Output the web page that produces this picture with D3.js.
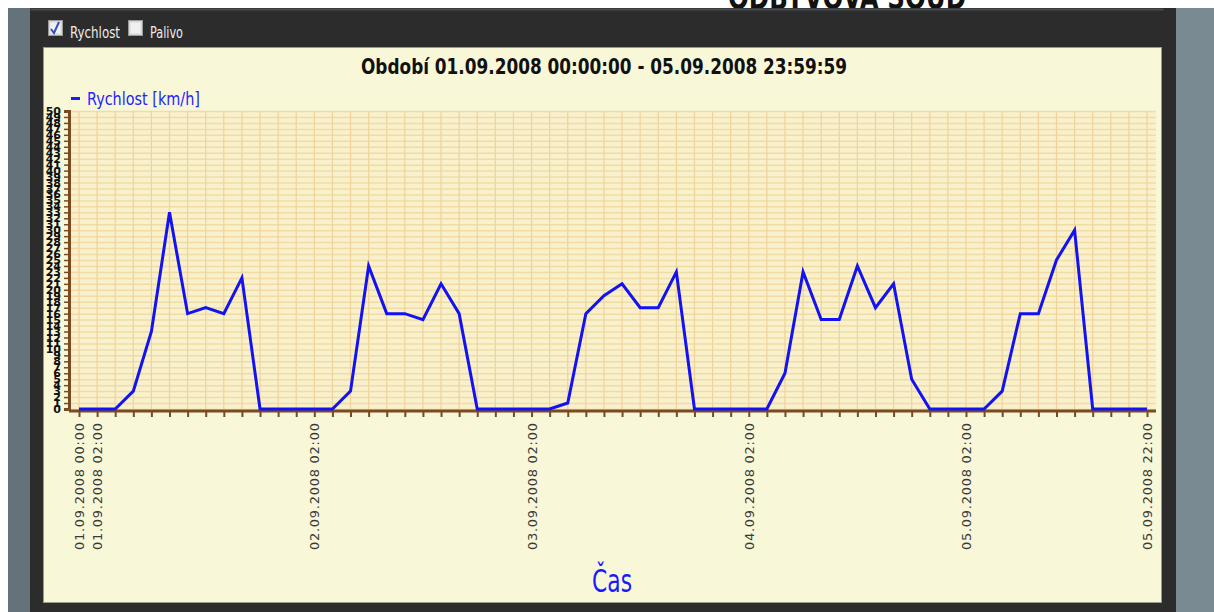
<!DOCTYPE html>
<html><head><meta charset="utf-8">
<script src="https://cdn.jsdelivr.net/npm/d3@7"></script>
<style>html,body{margin:0;padding:0;background:#fff;overflow:hidden}</style>
</head><body>
<svg id="c" width="1214" height="612"></svg>
<script>
// ---- data ----
const hours = d3.range(0, 120, 2); // every 2 hours from 01.09.2008 00:00
const speed = [0,0,0,3,13,33,16,17,16,22,
  0,0,0,0,0,3,24,16,16,15,21,16,
  0,0,0,0,0,1,16,19,21,17,17,23,
  0,0,0,0,0,6,23,15,15,24,17,21,5,
  0,0,0,0,3,16,16,25,30,0,0,0,0];
const labelHours = [0, 2, 26, 50, 74, 98, 118];
const labelTexts = ["01.09.2008 00:00","01.09.2008 02:00","02.09.2008 02:00","03.09.2008 02:00","04.09.2008 02:00","05.09.2008 02:00","05.09.2008 22:00"];
const yTicks = d3.range(0, 51);
const titleText = "Období 01.09.2008 00:00:00 - 05.09.2008 23:59:59";
const seriesName = "Rychlost [km/h]";
const xTitle = "Čas";

const svg = d3.select("#c");
const narrow = "'Liberation Sans Narrow','DejaVu Sans Condensed',sans-serif";

// page background pieces
svg.append("rect").attr("x",0).attr("y",0).attr("width",1214).attr("height",612).attr("fill","#fff");
svg.append("text").attr("x",728).attr("y",9).attr("font-family",narrow).attr("font-weight","bold")
  .attr("font-size",34).attr("fill","#111").attr("textLength",238).attr("lengthAdjust","spacingAndGlyphs").text("ODBYVOVÁ SOUD");
svg.append("rect").attr("x",8).attr("y",8).attr("width",1206).attr("height",604).attr("fill","#64737b");
svg.append("rect").attr("x",1176).attr("y",8).attr("width",38).attr("height",604).attr("fill","#7a8a93");
svg.append("rect").attr("x",30).attr("y",8).attr("width",1146).attr("height",604).attr("fill","#2c2c2c");
svg.append("rect").attr("x",30.5).attr("y",8.5).attr("width",1133).attr("height",2).attr("fill","#474c50");

// checkboxes
function checkbox(x, checked){
  svg.append("rect").attr("x",x+0.5).attr("y",20.5).attr("width",14).attr("height",15)
    .attr("fill","#d8d8d8").attr("stroke","#9a9a9a");
  svg.append("rect").attr("x",x+2.5).attr("y",22.5).attr("width",10).attr("height",11).attr("fill","#f0f0f0");
  if(checked) svg.append("path").attr("d",`M${x+3},29 L${x+6},33 L${x+11},22`)
    .attr("fill","none").attr("stroke","#3050c0").attr("stroke-width",2);
}
checkbox(48, true);
checkbox(128, false);
svg.append("text").attr("x",70).attr("y",38).attr("font-family",narrow).attr("font-size",15).attr("fill","#ececec")
  .attr("textLength",50).attr("lengthAdjust","spacingAndGlyphs").text("Rychlost");
svg.append("text").attr("x",150).attr("y",38).attr("font-family",narrow).attr("font-size",15).attr("fill","#ececec")
  .attr("textLength",33).attr("lengthAdjust","spacingAndGlyphs").text("Palivo");

// cream panel
svg.append("rect").attr("x",43.5).attr("y",47.5).attr("width",1118).attr("height",555)
  .attr("fill","#f8f7d8").attr("stroke","#9b9a86");

// title
svg.append("text").attr("x",604).attr("y",74).attr("text-anchor","middle").attr("font-family",narrow)
  .attr("font-weight","bold").attr("font-size",21).attr("fill","#111")
  .attr("textLength",486).attr("lengthAdjust","spacingAndGlyphs").text(titleText);

// legend
svg.append("rect").attr("x",71).attr("y",97).attr("width",9).attr("height",3).attr("fill","#1a1aff");
svg.append("text").attr("x",87).attr("y",105).attr("font-family",narrow).attr("font-size",18).attr("fill","#2424ff")
  .attr("textLength",113).attr("lengthAdjust","spacingAndGlyphs").text(seriesName);

// scales
const x = d3.scaleLinear().domain([0,118]).range([79,1147]);
const y = d3.scaleLinear().domain([0,50]).range([409,111]);
const plotL = 69, plotR = 1156;

// plot background
svg.append("rect").attr("x",plotL).attr("y",y(50)).attr("width",plotR-plotL).attr("height",y(0)-y(50)).attr("fill","#f8f1cc");
// horizontal grid
svg.append("g").selectAll("line").data(yTicks).join("line")
  .attr("x1",plotL).attr("x2",plotR).attr("y1",d=>y(d)+0.5).attr("y2",d=>y(d)+0.5)
  .attr("stroke","#f1dca6").attr("stroke-width",1.5);
// vertical grid
svg.append("g").selectAll("line").data(hours).join("line")
  .attr("x1",d=>x(d)).attr("x2",d=>x(d)).attr("y1",y(50)).attr("y2",y(0))
  .attr("stroke","#efd39a").attr("stroke-width",1.2);

// y axis
const yAxis = svg.append("g").attr("transform",`translate(${plotL},0)`)
  .call(d3.axisLeft(y).tickValues(yTicks).tickSize(5).tickPadding(3).tickFormat(d3.format("d")));
yAxis.select(".domain").attr("stroke","#7b4a22").attr("stroke-width",3);
yAxis.selectAll(".tick line").attr("stroke","#7b4a22").attr("stroke-width",1.5);
yAxis.selectAll(".tick text").attr("font-family","'DejaVu Sans',sans-serif").attr("font-weight","bold")
  .attr("font-size",11).attr("fill","#111");

// x axis
const xAxis = svg.append("g").attr("transform",`translate(0,${y(0)+2})`)
  .call(d3.axisBottom(x).tickValues(hours).tickSize(6).tickFormat(""));
xAxis.select(".domain").attr("d",`M${plotL},0H${plotR}`).attr("stroke","#7b4a22").attr("stroke-width",3);
xAxis.selectAll(".tick line").attr("stroke","#7b4a22").attr("stroke-width",2);

// x labels
svg.append("g").selectAll("text").data(labelHours).join("text")
  .attr("transform",d=>`translate(${x(d)+5},423) rotate(-90)`)
  .attr("text-anchor","end").attr("font-family","'DejaVu Sans',sans-serif").attr("font-size",13)
  .attr("fill","#3a3a3a").attr("textLength",127).attr("lengthAdjust","spacing")
  .text((d,i)=>labelTexts[i]);

// line
svg.append("path").datum(hours.map((h,i)=>[h,speed[i]]))
  .attr("d",d3.line().x(d=>x(d[0])).y(d=>y(d[1])))
  .attr("fill","none").attr("stroke","#1212f5").attr("stroke-width",3).attr("stroke-linejoin","miter");

// x title
svg.append("text").attr("x",612).attr("y",592).attr("text-anchor","middle").attr("font-family",narrow)
  .attr("font-size",32).attr("fill","#1a1aff").attr("textLength",40).attr("lengthAdjust","spacingAndGlyphs").text(xTitle);
</script>
</body></html>
